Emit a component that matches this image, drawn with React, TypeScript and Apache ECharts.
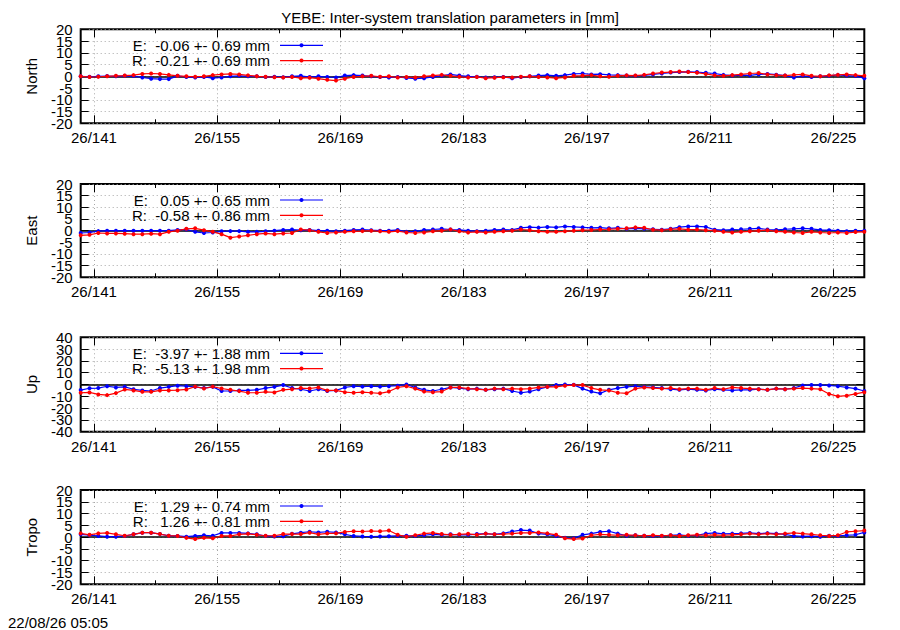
import React, { useEffect, useRef } from 'react';
import * as echarts from 'echarts';

const FONT = '"Liberation Sans", Arial, Helvetica, sans-serif';
const FS = 15;

const TITLE = 'YEBE: Inter-system translation parameters in [mm]';
const TIMESTAMP = '22/08/26 05:05';
const YEAR_PREFIX = '26/';

// day of year of each daily solution
const DAYS = [
  139.5, 140.5, 141.5, 142.5, 143.5, 144.5, 145.5, 146.5, 147.5, 148.5,
  149.5, 150.5, 151.5, 152.5, 153.5, 154.5, 155.5, 156.5, 157.5, 158.5,
  159.5, 160.5, 161.5, 162.5, 163.5, 164.5, 165.5, 166.5, 167.5, 168.5,
  169.5, 170.5, 171.5, 172.5, 173.5, 174.5, 175.5, 176.5, 177.5, 178.5,
  179.5, 180.5, 181.5, 182.5, 183.5, 184.5, 185.5, 186.5, 187.5, 188.5,
  189.5, 190.5, 191.5, 192.5, 193.5, 194.5, 195.5, 196.5, 197.5, 198.5,
  199.5, 200.5, 201.5, 202.5, 203.5, 204.5, 205.5, 206.5, 207.5, 208.5,
  209.5, 210.5, 211.5, 212.5, 213.5, 214.5, 215.5, 216.5, 217.5, 218.5,
  219.5, 220.5, 221.5, 222.5, 223.5, 224.5, 225.5, 226.5, 227.5, 228.5,
];
const X_MIN = 139.5;
const X_MAX = 228.5;
const MAJOR_DAYS = [141, 155, 169, 183, 197, 211, 225];
const MINOR_DAYS = [148, 162, 176, 190, 204, 218];

const NORTH_E = [
  0, -0.2, 0, 0.1, 0, 0.2, 0.1, -0.5, -1.0, -1.2,
  -1.2, 0.2, -0.3, -0.5, -0.3, -0.8, -0.5, 0, 0.2, 0,
  0, -0.3, -0.2, -0.4, 0, 0.2, -0.3, 0, -0.3, -0.5,
  0.3, 0.5, 0.3, 0, -0.3, -0.5, -0.3, -0.7, -1.0, -0.8,
  -0.3, 0.2, 0.8, 0.3, 0, -0.2, -0.5, -0.4, -0.3, -0.8,
  -0.3, 0, 0.3, 0.5, 0.2, 0.5, 1.0, 1.2, 0.8, 0.9,
  0.6, 0.5, 0.3, 0.2, 0.4, 0.8, 1.2, 1.6, 1.8, 1.9,
  1.8, 1.5, 1.2, 0.6, 0.3, 0.5, 0.4, 0.8, 1.0, 0.7,
  0.3, -0.5, 0.2, -0.3, 0, 0.2, 0.6, 0.3, 0.1, -0.8,
];
const NORTH_R = [
  0, -0.3, -0.2, 0, 0.2, 0.3, 0.5, 1.0, 1.2, 1.0,
  0.6, 0.2, 0, -0.2, 0, 0.5, 0.8, 1.0, 0.8, 0.4,
  0, -0.2, -0.4, -0.5, -0.3, -0.8, -0.6, -1.0, -1.5, -1.8,
  -1.0, -0.3, 0, 0.2, -0.2, 0, -0.5, -0.3, -0.5, 0,
  0.3, 0.6, 0.2, -0.2, -0.5, -0.3, -0.8, -0.6, -0.4, -0.5,
  -0.2, 0, -0.3, -0.5, -0.8, -0.5, 0.2, 0.3, 0.5, 0,
  -0.2, 0.2, 0.4, 0.3, 0.6, 1.2, 1.6, 1.8, 2.0, 1.8,
  1.5, 1.0, 0.4, 0.2, 0.5, 0.8, 1.2, 1.4, 0.8, 0.5,
  0.3, 0.6, 0.8, 0.2, 0, 0.4, 0.6, 0.8, 0.5, 0.2,
];
const EAST_E = [
  -1.0, -0.8, -0.2, 0, 0, 0, 0, 0, 0, 0,
  0, 0.3, 0.5, -0.5, -1.0, -0.8, -0.3, -0.2, -0.2, -0.5,
  -0.5, -0.3, 0, 0.3, 0.5, 0.2, 0.3, 0, 0, -0.3,
  0, 0.3, 0.5, 0.2, 0, 0, 0.3, -0.5, -0.3, 0.3,
  0.5, 0.8, 0.5, 0.3, 0, -0.3, 0, 0.3, 0.5, 0.3,
  1.2, 1.5, 1.3, 1.6, 1.4, 1.8, 1.6, 1.4, 1.2, 1.3,
  1.0, 1.2, 0.8, 1.0, 0.8, 0.6, 0.4, 0.8, 1.5, 1.8,
  1.8, 1.6, 0.4, 0.2, 0.5, 0.6, 0.8, 1.0, 0.5, 0.3,
  0.6, 0.8, 1.0, 0.8, 0.3, 0.2, 0, -0.3, 0, 0,
];
const EAST_R = [
  -2.0, -1.8, -1.0, -1.2, -1.2, -1.3, -1.5, -1.5, -1.3, -1.5,
  -0.5, 0, 0.8, 1.0, 0.2, -0.5, -1.5, -3.0, -2.5, -2.0,
  -1.5, -1.2, -1.5, -1.2, -1.0, 0.5, 0.2, -0.5, -1.0, -0.8,
  -0.5, -0.3, -0.2, 0, -0.3, -0.5, -0.2, -0.8, -1.0, -0.8,
  -0.3, 0, 0.5, -0.3, -0.8, -0.5, -0.8, -0.5, -0.3, 0,
  0.5, 0.2, -0.3, -0.5, -0.5, -0.3, 0, 0.2, 0.3, 0.5,
  0.6, 0.8, 1.0, 1.4, 1.2, 0.4, 0.2, 0.6, 0.8, 0.4,
  0.5, 0.2, 0, -0.5, -0.8, -0.5, -0.3, 0, 0.2, -0.3,
  -0.5, -0.8, -1.0, -0.5, -0.8, -1.0, -0.8, -1.0, -0.6, -0.5,
];
const UP_E = [
  -4.7, -3.2, -3.0, -1.5, -2.5, -2.0, -4.0, -5.0, -5.5, -3.0,
  -2.0, -1.0, -1.5, -2.0, -3.0, -2.0, -5.5, -5.5, -5.0, -5.0,
  -4.5, -3.0, -2.0, -0.5, -3.0, -4.0, -5.5, -4.0, -5.5, -5.0,
  -2.5, -1.5, -1.8, -1.5, -1.8, -1.5, -1.0, 0, -2.5, -4.5,
  -5.5, -4.0, -2.5, -3.0, -4.0, -3.5, -4.5, -4.0, -3.5, -5.5,
  -7.0, -6.0, -4.0, -2.0, -0.5, 0, -0.3, -3.5, -6.0, -7.5,
  -4.5, -3.0, -2.0, -1.5, -2.0, -2.5, -3.0, -4.0, -4.5, -4.0,
  -4.5, -5.0, -4.0, -4.5, -5.0, -4.5, -4.5, -4.0, -4.5, -3.5,
  -4.0, -3.0, -0.8, -0.5, -0.5, -0.8, -1.5, -2.5, -3.5, -5.5,
];
const UP_R = [
  -7.0, -6.7, -8.4, -9.0, -7.3, -4.2, -5.0, -6.2, -6.2, -5.0,
  -5.0, -4.8, -4.2, -1.8, -3.4, -1.8, -3.4, -4.5, -5.6, -7.0,
  -7.0, -6.2, -6.7, -4.5, -4.0, -3.0, -3.4, -2.5, -5.0, -5.0,
  -6.5, -7.0, -6.5, -7.0, -7.5, -6.0, -2.5, -1.5, -3.5, -6.0,
  -6.5, -6.0, -2.5, -2.5, -3.5, -4.0, -4.5, -3.5, -4.0, -3.5,
  -4.0, -3.5, -2.5, -2.0, -2.0, -1.0, -0.5, -0.5, -3.0, -4.5,
  -5.0, -7.0, -7.5, -3.5, -2.5, -3.0, -3.5, -3.0, -4.0, -3.5,
  -3.5, -4.5, -3.0, -4.0, -2.5, -3.0, -3.5, -4.0, -4.5, -3.5,
  -4.0, -3.5, -3.0, -3.5, -4.0, -8.0, -10.0, -9.5, -8.0, -6.5,
];
const TROPO_E = [
  1.2, 0.8, 0.5, 0.2, 0.2, 0.5, 1.2, 1.9, 1.9, 1.3,
  0.6, 0.5, 0.2, 0.5, 0.8, 0.6, 1.8, 1.8, 1.8, 1.6,
  1.2, 0.5, 0.3, 0.4, 1.4, 1.9, 2.3, 2.0, 2.3, 2.0,
  1.2, 0.5, 0.3, 0.2, 0.3, 0.4, 0.5, 0.6, 0.5, 0.8,
  1.2, 1.0, 1.2, 1.0, 1.0, 1.3, 1.5, 1.2, 1.6, 2.4,
  3.0, 2.8, 1.5, 1.2, 0.5, -0.3, -0.5, 1.0, 1.5, 2.2,
  2.5, 1.5, 0.6, 0.8, 0.6, 0.5, 0.5, 0.8, 1.0, 0.6,
  0.8, 1.5, 1.8, 1.4, 1.5, 1.6, 1.8, 1.5, 1.7, 1.5,
  1.2, 0.5, 0.3, 0.4, 0.2, 0.6, 0.5, 0.8, 1.0, 2.0,
];
const TROPO_R = [
  1.6, 1.0, 1.6, 1.8, 1.2, 0.6, 1.2, 1.9, 1.9, 1.3,
  0.6, 0.5, -0.3, -0.8, -0.3, -0.5, 0.5, 0.5, 1.2, 1.4,
  1.0, 0.6, 0.6, 1.3, 1.3, 1.3, 1.9, 1.2, 1.6, 1.6,
  2.2, 2.5, 2.4, 2.6, 2.5, 2.8, 1.0, 0.2, 0.8, 1.5,
  1.8, 1.3, 1.0, 1.2, 1.4, 1.0, 1.5, 1.2, 1.3, 1.5,
  1.8, 1.8, 2.0, 1.6, 1.0, -0.5, -0.8, -0.6, 0.8, 1.2,
  1.0, 0.8, 1.0, 0.8, 0.6, 0.8, 0.6, 0.8, 0.5, 0.8,
  1.0, 0.8, 1.0, 0.8, 1.0, 1.2, 1.5, 1.2, 1.5, 1.2,
  1.5, 1.8, 1.5, 1.2, 0.8, 0.5, 0.8, 2.2, 2.5, 2.8,
];

const PANEL_NAMES = ['North', 'East', 'Up', 'Tropo'];
const LEGEND_E = ['E:  -0.06 +- 0.69 mm', 'E:   0.05 +- 0.65 mm', 'E:  -3.97 +- 1.88 mm', 'E:   1.29 +- 0.74 mm'];
const LEGEND_R = ['R:  -0.21 +- 0.69 mm', 'R:  -0.58 +- 0.86 mm', 'R:  -5.13 +- 1.98 mm', 'R:   1.26 +- 0.81 mm'];
const Y_MIN = [-20, -20, -40, -20];
const Y_MAX = [20, 20, 40, 20];
const Y_STEP = [5, 5, 10, 5];
// tick labels of each panel, split into two interleaved sets
const Y_LABELS_A = [
  [-20, -10, 0, 10, 20],
  [-20, -10, 0, 10, 20],
  [-40, -20, 0, 20, 40],
  [-20, -10, 0, 10, 20],
];
const Y_LABELS_B = [
  [-15, -5, 5, 15],
  [-15, -5, 5, 15],
  [-30, -10, 10, 30],
  [-15, -5, 5, 15],
];
const SERIES_E = [NORTH_E, EAST_E, UP_E, TROPO_E];
const SERIES_R = [NORTH_R, EAST_R, UP_R, TROPO_R];

const BLUE = '#0000ff';
const RED = '#ff0000';

// layout
const GRID_LEFT = 80.7;
const GRID_RIGHT = 35.7;
const GRID_TOPS = [29.3, 184, 337.3, 490];
const GRID_HEIGHTS = [94, 93.3, 94.4, 94.3];

function buildOption() {
  const tickLine = { color: '#000', width: 1 };
  const gridDots = { color: '#a8a8a8', width: 1, type: [1, 3] as number[] };
  const text = { fontSize: FS, color: '#000', fontFamily: FONT };

  const grids: any[] = [];
  const xAxes: any[] = [];
  const yAxes: any[] = [];
  const series: any[] = [];
  const graphics: any[] = [];

  PANEL_NAMES.forEach((name, k) => {
    grids.push({
      left: GRID_LEFT,
      right: GRID_RIGHT,
      top: GRID_TOPS[k],
      height: GRID_HEIGHTS[k],
      show: true,
      borderColor: '#000',
      borderWidth: 2,
      backgroundColor: '#fff',
      containLabel: false,
      outerBoundsMode: 'none',
    });
    const baseX = {
      gridIndex: k,
      type: 'value',
      min: X_MIN,
      max: X_MAX,
      axisLine: { show: false, onZero: false },
      minorTick: { show: false },
      splitLine: { show: false },
      axisLabel: { show: false },
    };
    xAxes.push({
      ...baseX,
      position: 'bottom',
      axisTick: { show: true, inside: true, length: 8, customValues: MAJOR_DAYS, lineStyle: tickLine },
      axisLabel: {
        show: true,
        customValues: MAJOR_DAYS,
        formatter: (v: number) => YEAR_PREFIX + v,
        margin: 7,
        hideOverlap: false,
        ...text,
      },
      splitLine: { show: true, lineStyle: gridDots },
    });
    xAxes.push({
      ...baseX,
      position: 'bottom',
      axisTick: { show: true, inside: true, length: 4, customValues: MINOR_DAYS, lineStyle: tickLine },
    });
    xAxes.push({
      ...baseX,
      position: 'top',
      axisTick: { show: true, inside: true, length: 8, customValues: MAJOR_DAYS, lineStyle: tickLine },
    });
    xAxes.push({
      ...baseX,
      position: 'top',
      axisTick: { show: true, inside: true, length: 4, customValues: MINOR_DAYS, lineStyle: tickLine },
    });

    const baseY = {
      gridIndex: k,
      type: 'value',
      min: Y_MIN[k],
      max: Y_MAX[k],
      interval: Y_STEP[k],
      axisLine: { show: false, onZero: false },
    };
    // main left axis: ticks, grid lines, half of the labels, name
    yAxes.push({
      ...baseY,
      position: 'left',
      name,
      nameLocation: 'middle',
      nameGap: 42,
      nameRotate: 90,
      nameTextStyle: { ...text },
      axisTick: { show: true, inside: true, length: 8, lineStyle: tickLine },
      axisLabel: {
        margin: 8,
        customValues: Y_LABELS_A[k],
        showMinLabel: true,
        showMaxLabel: true,
        hideOverlap: false,
        ...text,
      },
      splitLine: { show: true, lineStyle: gridDots },
    });
    // right mirror ticks
    yAxes.push({
      ...baseY,
      position: 'right',
      axisTick: { show: true, inside: true, length: 8, lineStyle: tickLine },
      axisLabel: { show: false },
      splitLine: { show: false },
    });
    // left overlay carrying the other half of the labels
    yAxes.push({
      ...baseY,
      position: 'left',
      axisTick: { show: false },
      axisLabel: {
        margin: 8,
        customValues: Y_LABELS_B[k],
        hideOverlap: false,
        ...text,
      },
      splitLine: { show: false },
    });

    const mk = (label: string, values: number[], color: string, withZero: boolean) => ({
      type: 'line',
      name: label,
      xAxisIndex: k * 4,
      yAxisIndex: k * 3,
      data: DAYS.map((d, i) => [d, values[i]]),
      symbol: 'circle',
      symbolSize: 4,
      showSymbol: true,
      lineStyle: { color, width: 1.2 },
      itemStyle: { color },
      z: 3,
      markLine: withZero
        ? {
            silent: true,
            symbol: ['none', 'none'],
            label: { show: false },
            lineStyle: { color: '#000', width: 1.6, type: 'solid' },
            data: [{ yAxis: 0 }],
            z: 2,
          }
        : undefined,
    });
    series.push(mk(LEGEND_E[k], SERIES_E[k], BLUE, true));
    series.push(mk(LEGEND_R[k], SERIES_R[k], RED, false));

    // legend samples (text + line + point), gnuplot style
    const rows = [
      { label: LEGEND_E[k], color: BLUE, dy: 16 },
      { label: LEGEND_R[k], color: RED, dy: 31.3 },
    ];
    rows.forEach((r) => {
      const yy = GRID_TOPS[k] + r.dy;
      graphics.push({
        type: 'text',
        x: 270,
        y: yy,
        style: {
          text: r.label,
          align: 'right',
          verticalAlign: 'middle',
          fontSize: FS,
          fontFamily: FONT,
          fill: '#000',
        },
      });
      graphics.push({
        type: 'line',
        shape: { x1: 280, y1: yy, x2: 323, y2: yy },
        style: { stroke: r.color, lineWidth: 1.2 },
      });
      graphics.push({
        type: 'circle',
        shape: { cx: 301.5, cy: yy, r: 2 },
        style: { fill: r.color },
      });
    });
  });

  graphics.push({
    type: 'text',
    x: 8,
    y: 622,
    style: {
      text: TIMESTAMP,
      align: 'left',
      verticalAlign: 'middle',
      fontSize: FS,
      fontFamily: FONT,
      fill: '#000',
    },
  });

  return {
    animation: false,
    backgroundColor: '#fff',
    title: {
      text: TITLE,
      left: 'center',
      top: 5,
      textStyle: { fontSize: FS, fontWeight: 'normal', color: '#000', fontFamily: FONT },
    },
    grid: grids,
    xAxis: xAxes,
    yAxis: yAxes,
    series,
    graphic: graphics,
  };
}

export default function App() {
  const ref = useRef<HTMLDivElement>(null);
  useEffect(() => {
    if (!ref.current) return;
    const chart = echarts.init(ref.current, undefined, { renderer: 'svg' });
    chart.setOption(buildOption() as any);
    return () => chart.dispose();
  }, []);
  return (
    <div
      ref={ref}
      style={{ position: 'fixed', left: 0, top: 0, width: 900, height: 630, background: '#fff' }}
    />
  );
}
